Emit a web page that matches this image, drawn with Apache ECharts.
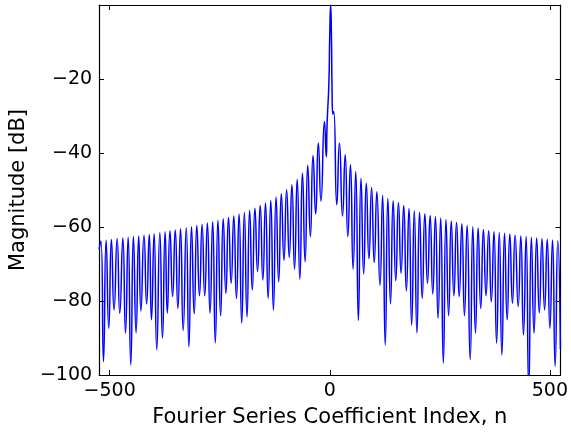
<!DOCTYPE html>
<html>
<head>
<meta charset="utf-8">
<script src="https://cdn.jsdelivr.net/npm/echarts@6/dist/echarts.min.js"></script>
<style>
  html, body { margin: 0; padding: 0; background: #fff; }
  #main { width: 571px; height: 434px; }
</style>
</head>
<body>
<div id="main"></div>
<script>
// nulls of the sidelobes (n, dB)
var nullN = [-514,-502,-490,-477,-464,-452,-440,-429,-416,-405,
  -393,-380,-369,-357,-345,-333,-320,-308,-296,-284,
  -272,-260,-248,-236,-224,-212,-200,-188,-176,-164,
  -152,-140,-128,-116,-104,-92,-80,-68,-56,-44,
  -32,-20,-8,
  16,29,41,53,65,77,89,101,114,126,
  138,150,162,174,186,198,210,222,234,246,
  258,270,282,294,306,319,331,343,355,367,
  379,391,403,415,428,440,452,464,476,488,
  500,512];
var nullDb = [-96.4,-87.4,-82.4,-83.3,-88.7,-97.3,-88.6,-82.7,-80.8,-85.1,
  -93.2,-90.1,-83.3,-78.8,-82,-88,-92.4,-83.5,-78.6,-78.6,
  -83.3,-91.3,-84,-77.9,-75.2,-79.3,-86,-84.3,-77,-72,
  -74.3,-79.3,-82.5,-74.8,-69,-68.2,-71.4,-74.1,-69.4,-62.6,
  -56.5,-53,-41,
  -54,-57,-62.6,-71.4,-85.2,-72.7,-68.6,-69.6,-75.8,-91.9,
  -80.8,-74.5,-72.5,-77.3,-86.5,-88.6,-79.3,-75.2,-78.1,-84.7,
  -96.8,-84,-78.6,-78.8,-84,-95.8,-88.7,-82,-78.6,-80.2,
  -91.4,-94.6,-85.1,-80.6,-81.5,-89.2,-104,-88.7,-83.2,-82.4,
  -87.4,-97.7];

// tops of the sidelobes
var peakN = [-520,-508,-496,-483,-470,-458,-446,-434,-422,-410,
  -399,-386,-374,-363,-351,-339,-326,-314,-302,-290,
  -278,-266,-254,-242,-230,-218,-206,-194,-182,-170,
  -158,-146,-134,-122,-110,-98,-86,-74,-62,-50,
  -38,-26,-12,
  22,35,47,59,71,83,95,107,120,132,
  144,156,168,180,192,204,216,228,240,252,
  264,276,288,300,312,325,337,349,361,373,
  385,397,409,421,434,446,458,470,482,494,
  506,518];
var peakDb = [-63.8,-63.6,-63.4,-63.2,-63,-62.8,-62.6,-62.4,-62.2,-62,
  -61.8,-61.5,-61.3,-61,-60.8,-60.5,-60.2,-59.9,-59.6,-59.3,
  -58.9,-58.6,-58.2,-57.8,-57.4,-57,-56.5,-56,-55.5,-54.9,
  -54.2,-53.5,-52.8,-51.9,-51,-49.9,-48.6,-47.1,-45.4,-43.3,
  -40.7,-37.3,-31.5,
  -37.3,-40.5,-43.2,-45,-46.8,-48.2,-49.3,-50.5,-51.5,-52.3,
  -52.9,-53.4,-54.2,-55,-55.6,-56,-56.4,-56.9,-57.2,-57.6,
  -58,-58.4,-58.8,-59.1,-59.5,-59.9,-60.3,-60.7,-61,-61.3,
  -61.5,-61.7,-61.9,-62.2,-62.4,-62.6,-62.8,-63,-63.2,-63.3,
  -63.5,-63.7];

// main lobe around n = 0
var centreN = [-6, -2, 0, 2, 4, 5, 7, 9];
var centreDb = [-32, -21, -8, 0, -10, -21, -29.5, -28.8];

// first and last samples
var edgeN = [-524, 524];
var edgeDb = [-66, -93];

var pts = [];
function addPts(xs, ys) {
  for (var i = 0; i < xs.length; i++) pts.push([xs[i], ys[i]]);
}
addPts(nullN, nullDb);
addPts(peakN, peakDb);
addPts(centreN, centreDb);
addPts(edgeN, edgeDb);
pts.sort(function (a, b) { return a[0] - b[0]; });

var FONT = 'DejaVu Sans';
function minus(v) { return String(v).replace('-', '\u2212'); }

var axisLineStyle = { color: '#000', width: 1.2 };

var myChart = echarts.init(document.getElementById('main'));
var option = {
  animation: false,
  backgroundColor: '#fff',
  grid: { left: 99, right: 7, top: 5, bottom: 59, containLabel: false },
  xAxis: [{
    type: 'value',
    min: -524, max: 524,
    name: 'Fourier Series Coefficient Index, n',
    nameLocation: 'middle',
    nameGap: 32,
    nameTextStyle: { fontFamily: FONT, fontSize: 21, color: '#000' },
    axisLine: { onZero: false, lineStyle: axisLineStyle },
    axisTick: { inside: true, length: 5, customValues: [-500, 0, 500], lineStyle: { color: '#000' } },
    axisLabel: { customValues: [-500, 0, 500], margin: 7, fontFamily: FONT, fontSize: 19, color: '#000', formatter: minus },
    splitLine: { show: false }
  }, {
    type: 'value',
    position: 'top',
    min: -524, max: 524,
    axisLine: { onZero: false, lineStyle: axisLineStyle },
    axisTick: { inside: true, length: 5, customValues: [-500, 0, 500], lineStyle: { color: '#000' } },
    axisLabel: { show: false },
    splitLine: { show: false }
  }],
  yAxis: [{
    type: 'value',
    min: -100, max: 0, interval: 20,
    name: 'Magnitude [dB]',
    nameLocation: 'middle',
    nameGap: 65,
    nameTextStyle: { fontFamily: FONT, fontSize: 21, color: '#000' },
    axisLine: { onZero: false, lineStyle: axisLineStyle },
    axisTick: { inside: true, length: 5, lineStyle: { color: '#000' } },
    axisLabel: { margin: 7, fontFamily: FONT, fontSize: 19, color: '#000', formatter: minus, showMaxLabel: false },
    splitLine: { show: false }
  }, {
    type: 'value',
    position: 'right',
    min: -100, max: 0, interval: 20,
    axisLine: { onZero: false, lineStyle: axisLineStyle },
    axisTick: { inside: true, length: 5, lineStyle: { color: '#000' } },
    axisLabel: { show: false },
    splitLine: { show: false }
  }],
  series: [{
    type: 'line',
    data: pts,
    showSymbol: false,
    smooth: 0.6,
    clip: true,
    lineStyle: { color: '#0000ff', width: 1.5 }
  }]
};
myChart.setOption(option);
</script>
</body>
</html>
